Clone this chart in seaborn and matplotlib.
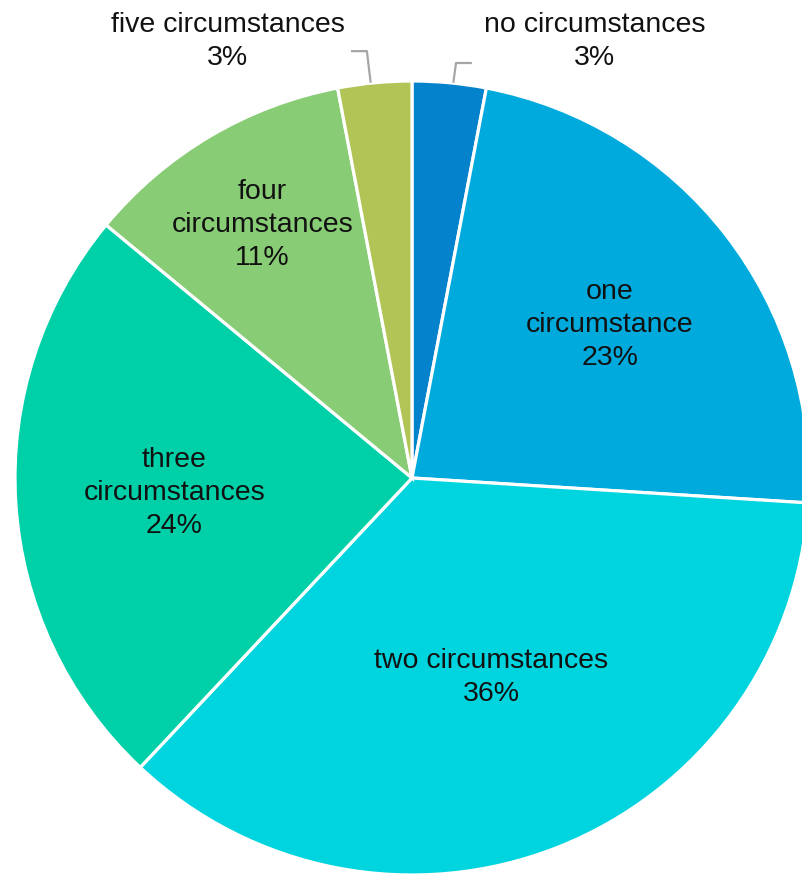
import numpy as np
import matplotlib
matplotlib.use("Agg")
import matplotlib.pyplot as plt
import seaborn as sns

# Share of cases by number of circumstances
categories = ["no circumstances", "one\ncircumstance", "two circumstances",
              "three\ncircumstances", "four\ncircumstances", "five circumstances"]
shares = [3, 23, 36, 24, 11, 3]
colors = ["#0582CC", "#00AADD", "#00D4DE", "#00D0A8", "#88CC75", "#B2C456"]

# Label placement: radial distance for inside labels, None for callouts
label_radius = [None, 0.63, 0.54, 0.60, 0.74, None]

sns.set_theme(style="white")
plt.rcParams["font.family"] = ["Liberation Sans", "DejaVu Sans"]

W, H, DPI = 802, 875, 100
fig = plt.figure(figsize=(W / DPI, H / DPI), dpi=DPI)
ax = fig.add_axes([0, 0, 1, 1])

# pixel geometry of the pie
cx, cy, rad = 412, 478, 397
ax.axis("off")

wedges, _ = ax.pie(shares, colors=sns.color_palette(colors), startangle=90,
                   counterclock=False, radius=1.0,
                   wedgeprops=dict(edgecolor="white", linewidth=2.3))
ax.set_xlim((0 - cx) / rad, (W - cx) / rad)
ax.set_ylim((cy - H) / rad, (cy - 0) / rad)
ax.set_aspect("auto")

fs = 20.5
tcol = "#111111"
lsp = 1.36
for w, name, val, lr in zip(wedges, categories, shares, label_radius):
    mid = np.deg2rad((w.theta1 + w.theta2) / 2)
    ux, uy = np.cos(mid), np.sin(mid)
    text = f"{name}\n{val}%"
    if lr is not None:
        ax.text(lr * ux, lr * uy, text, ha="center", va="center",
                fontsize=fs, color=tcol, linespacing=lsp)
    else:
        side = 1 if ux >= 0 else -1
        r_elbow = 1.05 if side > 0 else 1.08
        ex, ey = r_elbow * ux + side * 0.012, r_elbow * uy
        ax.plot([ux + side * 0.01, ex, ex + side * 0.04], [uy, ey, ey],
                color="#A6A6A6", lw=1.6, solid_capstyle="butt", clip_on=False)
        ax.text(ex + side * 0.35, 1.10, text, ha="center", va="center",
                fontsize=fs, color=tcol, linespacing=lsp)

fig.savefig("out.png", dpi=DPI, facecolor="white")
